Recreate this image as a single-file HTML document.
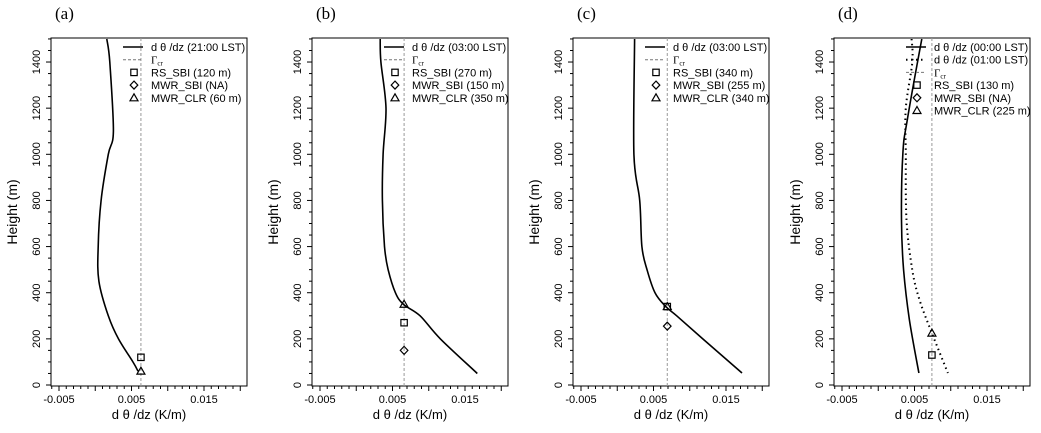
<!DOCTYPE html>
<html><head><meta charset="utf-8"><style>
html,body{margin:0;padding:0;background:#fff;}
svg{display:block;font-family:"Liberation Sans",sans-serif;}
</style></head><body>
<svg id="chart" width="1041" height="433" viewBox="0 0 1041 433"></svg>
<script>
// ---- data ----
const panelLabels = ["(a)","(b)","(c)","(d)"];
const gammaCr = [0.0063, 0.0066, 0.0069, 0.0074];
const aH = [1500,1400,1100,1000,800,600,450,300,200,100,60];
const aV = [0.0016,0.0020,0.0025,0.0018,0.0008,0.0004,0.0005,0.0018,0.0032,0.0052,0.0059];
const bH = [1500,1400,1200,1000,800,600,500,400,350,300,200,50];
const bV = [0.0033,0.0034,0.0041,0.0037,0.0036,0.0039,0.0044,0.0054,0.0065,0.0088,0.0116,0.0167];
const cH = [1500,1000,800,600,500,400,340,300,200,52];
const cV = [0.0024,0.0023,0.0031,0.0034,0.0041,0.0052,0.0067,0.0082,0.0118,0.0172];
const dH = [1500,1149,1006,715,498,282,52];
const dV = [0.0060,0.0040,0.0034,0.0032,0.0035,0.0043,0.0056];
const d2H = [1500,1400,1200,1006,715,498,368,225,52];
const d2V = [0.0046,0.0047,0.0038,0.0038,0.0039,0.0047,0.0057,0.0074,0.0096];
// markers: [RS_SBI, MWR_SBI, MWR_CLR] heights (null = NA)
const markerH = [[120,null,60],[270,150,350],[340,255,340],[130,null,225]];
const legendTexts = [
 ["d θ /dz (21:00 LST)","Γcr","RS_SBI (120 m)","MWR_SBI (NA)","MWR_CLR (60 m)"],
 ["d θ /dz (03:00 LST)","Γcr","RS_SBI (270 m)","MWR_SBI (150 m)","MWR_CLR (350 m)"],
 ["d θ /dz (03:00 LST)","Γcr","RS_SBI (340 m)","MWR_SBI (255 m)","MWR_CLR (340 m)"],
 ["d θ /dz (00:00 LST)","d θ /dz (01:00 LST)","Γcr","RS_SBI (130 m)","MWR_SBI (NA)","MWR_CLR (225 m)"]
];
const xTickLabels = ["-0.005","0.005","0.015"];
const xTickVals = [-0.005,0.005,0.015];
const yTickVals = [0,200,400,600,800,1000,1200,1400];

const panelLeft = [51,312,573,834];
const W = 196, TOP = 38, BOT = 386;
const NS = "http://www.w3.org/2000/svg";
const svg = document.getElementById('chart');
function mk(tag, attrs, parent){const e=document.createElementNS(NS,tag);for(const k in attrs)e.setAttribute(k,attrs[k]);(parent||svg).appendChild(e);return e;}
function yS(h){return 385 - h*0.2307;}
function smoothPath(P){
  let d='M'+P[0][0].toFixed(1)+','+P[0][1].toFixed(1);
  for(let i=0;i<P.length-1;i++){
    const p0=P[Math.max(0,i-1)],p1=P[i],p2=P[i+1],p3=P[Math.min(P.length-1,i+2)];
    const c1x=p1[0]+(p2[0]-p0[0])/6,c1y=p1[1]+(p2[1]-p0[1])/6;
    const c2x=p2[0]-(p3[0]-p1[0])/6,c2y=p2[1]-(p3[1]-p1[1])/6;
    d+=` C${c1x.toFixed(1)},${c1y.toFixed(1)} ${c2x.toFixed(1)},${c2y.toFixed(1)} ${p2[0].toFixed(1)},${p2[1].toFixed(1)}`;
  }
  return d;
}

const series = [[[aH,aV]],[[bH,bV]],[[cH,cV]],[[dH,dV],[d2H,d2V]]];

for(let p=0;p<4;p++){
  const L = panelLeft[p];
  const xS = v => L + 8 + (v+0.005)*7250;
  const g = mk('g',{});
  
  
  const lab = mk('text',{x:L+4,y:19,'font-size':17,'font-family':'"Liberation Serif",serif'},g);
  lab.textContent = panelLabels[p];
  
  
  const box = mk('rect',{x:L,y:TOP,width:W,height:BOT-TOP,fill:'none',stroke:'#000','stroke-width':1},g);
  
  
  for(let h=0;h<=1500;h+=50){
    const y=yS(h), major=h%200===0;
    mk('line',{x1:L,x2:L-(major?5:3),y1:y,y2:y,stroke:'#000','stroke-width':1},g);
  }
  yTickVals.forEach(h=>{
    const t=mk('text',{x:L-11,y:yS(h),'font-size':11,'text-anchor':'middle',transform:`rotate(-90 ${L-11} ${yS(h)})`},g);
    t.textContent=h;
    
    
  });
  const yt=mk('text',{x:L-34,y:212,'font-size':14,'text-anchor':'middle',transform:`rotate(-90 ${L-34} 212)`},g);
  yt.textContent='Height (m)';
  
  
  for(let i=-6;i<=20;i++){
    const v=i/1000, x=xS(v);
    if(x<L||x>L+W) continue;
    mk('line',{x1:x,x2:x,y1:BOT,y2:BOT+(i%5===0?5:3),stroke:'#000','stroke-width':1},g);
  }
  xTickVals.forEach((v,i)=>{
    const t=mk('text',{x:xS(v),y:BOT+17,'font-size':11,'text-anchor':'middle'},g);
    t.textContent=xTickLabels[i];
    
    
  });
  const xt=mk('text',{x:L+W/2,y:BOT+33,'font-size':13,'text-anchor':'middle'},g);
  xt.textContent='d θ /dz (K/m)';
  
  
  const gl=mk('line',{x1:xS(gammaCr[p]),x2:xS(gammaCr[p]),y1:TOP,y2:BOT,stroke:'#999','stroke-width':1,'stroke-dasharray':'3,2'},g);
  
  
  series[p].forEach((s,si)=>{
    const P=s[0].map((h,i)=>[xS(s[1][i]),yS(h)]);
    const pl=mk('path',{d:smoothPath(P),fill:'none',stroke:'#000','stroke-width':si?2:1.6,'stroke-dasharray':si?'1.5,3.5':'none','stroke-linejoin':'round'},g);
    
    
  });
  const mx=xS(gammaCr[p]);
  const drawSym=(k,x,y)=>{
    let e;
    if(k===0) e=mk('rect',{x:x-3.2,y:y-3.2,width:6.4,height:6.4,fill:'none',stroke:'#000','stroke-width':1.2},g);
    else if(k===1) e=mk('polygon',{points:`${x},${y-4} ${x+3.8},${y} ${x},${y+4} ${x-3.8},${y}`,fill:'none',stroke:'#000','stroke-width':1.2},g);
    else e=mk('polygon',{points:`${x},${y-4} ${x+4},${y+3} ${x-4},${y+3}`,fill:'none',stroke:'#000','stroke-width':1.2},g);
    return e;
  };
  markerH[p].forEach((h,k)=>{
    if(h===null) return;
    const e=drawSym(k,mx,yS(h));
    
    
  });
  const lt=legendTexts[p];
  const nLines = p===3?2:1;
  lt.forEach((txt,i)=>{
    const y=51+i*12.7, tx=L+100;
    if(i<nLines){
      mk('line',{x1:L+72,x2:L+92,y1:y-4,y2:y-4,stroke:'#000','stroke-width':i?2:1.6,'stroke-dasharray':i?'1.5,3.5':'none'},g);
    } else if(i===nLines){
      mk('line',{x1:L+72,x2:L+92,y1:y-4,y2:y-4,stroke:'#777','stroke-width':1,'stroke-dasharray':'3,2'},g);
    } else {
      drawSym(i-nLines-1,L+83,y-4);
    }
    const t=mk('text',{x:tx,y:y,'font-size':11},g);
    if(txt==='Γcr'){
      t.setAttribute('font-family','"Liberation Serif",serif');
      t.textContent='Γ';
      const s=mk('tspan',{'font-size':7,dy:2},t);s.textContent='cr';
    } else t.textContent=txt;
    
    
  });
}
</script>
</body></html>
